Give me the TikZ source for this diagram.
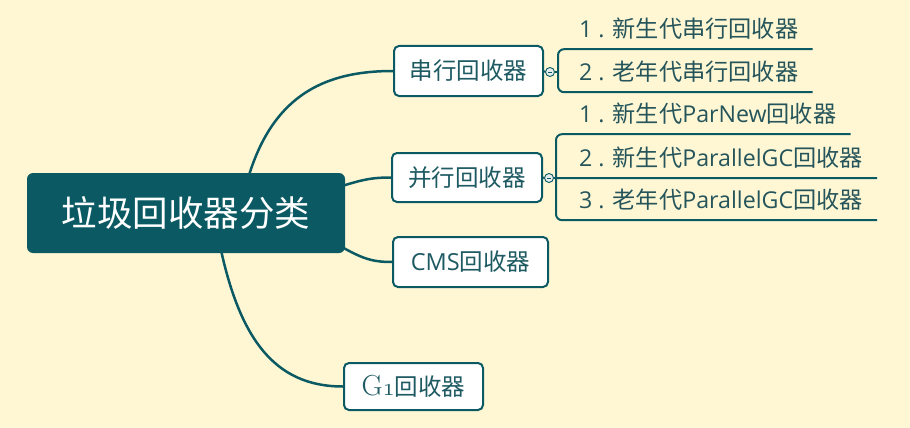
\documentclass[tikz,border=0pt]{standalone}
\usepackage{fontspec}
\setmainfont{Open Sans}
\newfontfamily\cjk{Noto Sans CJK SC}
\newfontfamily\gserif{Latin Modern Roman}
\usetikzlibrary{calc,backgrounds}
\pgfdeclarelayer{edges}
\pgfsetlayers{background,edges,main}
\definecolor{bgc}{HTML}{FFF7D4}
\definecolor{tealA}{HTML}{0B5A63}
\definecolor{txtc}{HTML}{1E5A62}
\definecolor{subtxt}{HTML}{25555B}
\definecolor{btn}{HTML}{E4ECEC}
\tikzset{
  rootbox/.style={fill=tealA, rounded corners=6pt, minimum width=318pt, minimum height=80pt,
    inner sep=0pt, text=white, font=\fontsize{35.5}{40}\selectfont\cjk},
  childbox/.style={draw=tealA, line width=2pt, fill=white, rounded corners=5pt, inner sep=0pt,
    text=txtc, font=\fontsize{23.5}{27}\selectfont},
  subitem/.style={anchor=west, inner xsep=0pt, inner ysep=0pt, minimum height=40pt,
    text=subtxt, font=\fontsize{23.2}{27}\selectfont},
  rootedge/.style={draw=tealA, line width=2.5pt},
  subedge/.style={draw=tealA, line width=2pt},
  btnc/.style={circle, draw=tealA, fill=btn, minimum size=9pt, inner sep=0pt, line width=0.9pt},
}
\begin{document}
\begin{tikzpicture}[x=1pt,y=-1pt]
\begin{pgfonlayer}{background}
\fill[bgc] (0,0) rectangle (910,428);
\end{pgfonlayer}
\useasboundingbox (0,0) rectangle (910,428);

% root and children
\node[rootbox] (root) at (186,213) {垃圾回收器分类};
\node[childbox, minimum width=149pt, minimum height=50pt] (s1) at (468.5,71) {\cjk 串行回收器};
\node[childbox, minimum width=150pt, minimum height=49pt] (s2) at (467,177.5) {\cjk 并行回收器};
\node[childbox, minimum width=155pt, minimum height=50pt] (s3) at (470.5,262) {CMS{\cjk 回收器}};
\node[childbox, minimum width=139pt, minimum height=47pt] (s4) at (413.5,386.5) {{\gserif\fontsize{29}{30}\selectfont G{\fontencoding{OML}\fontfamily{cmm}\fontseries{m}\fontshape{it}\fontsize{29}{30}\selectfont 1}}{\cjk 回收器}};

% helper points hidden behind the root
\coordinate (o1) at (240,213);
\coordinate (o2) at (330,190);
\coordinate (o3) at (330,240);
\coordinate (o4) at (217,230);

\begin{pgfonlayer}{edges}
\draw[rootedge] (o1) .. controls (260,100) and (318,71) .. (s1.west);
\draw[rootedge] (o2) .. controls (360,180) and (370,177.5) .. (s2.west);
\draw[rootedge] (o3) .. controls (360,258) and (370,262) .. (s3.west);
\draw[rootedge] (o4) .. controls (237,340) and (275,386.5) .. (s4.west);
\end{pgfonlayer}

% collapse buttons
\node[btnc] (c1) at (550,72) {};
\node[btnc] (c2) at (549,178) {};
\draw[tealA, line width=0.7pt] ([xshift=-2pt]c1.center) -- ([xshift=2pt]c1.center);
\draw[tealA, line width=0.7pt] ([xshift=-2pt]c2.center) -- ([xshift=2pt]c2.center);

% sub items of serial
\node[subitem] (a1) at (579,29) {1 . {\cjk 新生代串行回收器}};
\node[subitem] (a2) at (579,72) {2 . {\cjk 老年代串行回收器}};
\coordinate (v1) at (558,72);
\draw[subedge] (s1.east) -- (c1.west);
\draw[subedge] (c1.east) -- (v1);
\draw[subedge, rounded corners=6pt] ([xshift=14pt]a1.south east) -- (a1.south -| v1)
  -- (a2.south -| v1) -- ([xshift=14pt]a2.south east);

% sub items of parallel
\node[subitem] (b1) at (579,114) {1 . {\cjk 新生代}ParNew{\cjk 回收器}};
\node[subitem] (b2) at (579,158) {2 . {\cjk 新生代}ParallelGC{\cjk 回收器}};
\node[subitem] (b3) at (579,200) {3 . {\cjk 老年代}ParallelGC{\cjk 回收器}};
\coordinate (v2) at (556,178);
\draw[subedge] (s2.east) -- (c2.west);
\draw[subedge] (c2.east) -- (v2);
\draw[subedge, rounded corners=6pt] ([xshift=14pt]b1.south east) -- (b1.south -| v2)
  -- (b3.south -| v2) -- ([xshift=14pt]b3.south east);
\draw[subedge] (v2) -- ([xshift=14pt]b2.south east);
\end{tikzpicture}
\end{document}
